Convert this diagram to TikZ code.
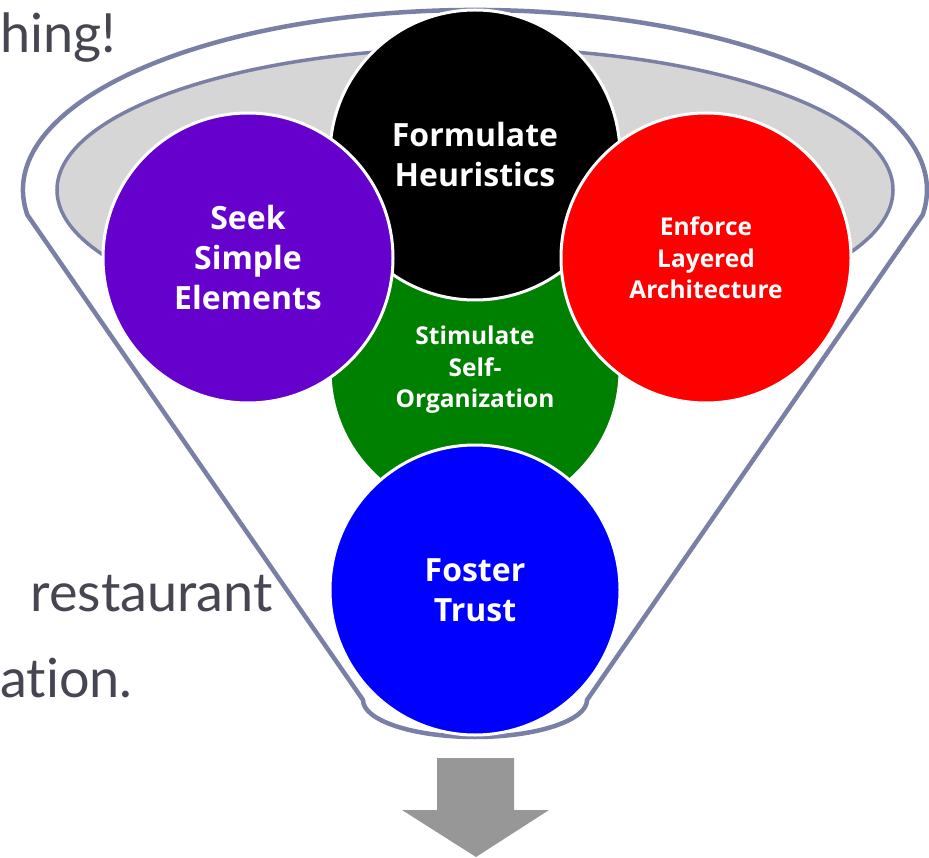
\documentclass[tikz,border=0pt]{standalone}
\usepackage{fontspec}
\setmainfont{Lato}[Ligatures=NoCommon]
\newfontfamily\bubblefont{Open Sans}
\usepackage{tikz}

\definecolor{funnelline}{RGB}{122,128,165}
\definecolor{mouthgray}{RGB}{214,214,214}
\definecolor{slidetext}{RGB}{70,70,82}
\definecolor{seekpurple}{RGB}{102,0,204}
\definecolor{stimgreen}{RGB}{0,128,0}
\definecolor{arrowgray}{RGB}{151,151,151}

\begin{document}
\begin{tikzpicture}[x=1pt, y=-1pt,
  bubble/.style={circle, draw=white, line width=3pt, minimum size=290pt, inner sep=0pt, text=white, align=center, font=\bubblefont\bfseries\fontsize{32}{40}\selectfont},
  smallbubble/.style={bubble, font=\bubblefont\bfseries\fontsize{24.5}{31.5}\selectfont},
  slide/.style={anchor=base west, inner sep=0pt, text=slidetext, font=\fontsize{54}{66}\selectfont}]
\useasboundingbox (0,0) rectangle (929,858);

% slide text behind the funnel
\node[slide] (hing) at (0,53) {hing!};
\node[slide, anchor=base east] (rest) at (273,611) {restaurant};
\node[slide] (ation) at (0,697) {ation.};

% funnel body and mouth
\draw[funnelline, line width=4.5pt, fill=white, line join=round] (27.4,215) arc[start angle=172, end angle=368, x radius=452, y radius=180] -- (587,700) arc[start angle=0, end angle=180, x radius=112, y radius=37] -- cycle;
\draw[funnelline, line width=3.5pt, fill=mouthgray] (475,190) ellipse [x radius=418, y radius=142];

% circles, back to front
\node[smallbubble, fill=stimgreen] (stim) at (475,370) {Stimulate\\Self-\\Organization};
\node[bubble, fill=black] (heur) at (475,155) {Formulate\\Heuristics};
\node[bubble, fill=seekpurple] (seek) at (248,258) {Seek\\Simple\\Elements};
\node[smallbubble, fill=red] (layer) at (706,258) {Enforce\\Layered\\Architecture};
\node[bubble, fill=blue] (trust) at (475,590) {Foster\\Trust};

% down arrow
\fill[arrowgray] (437,758) -- (514,758) -- (514,810) -- (549,810) -- (476,857) -- (402,810) -- (437,810) -- cycle;

\end{tikzpicture}
\end{document}
